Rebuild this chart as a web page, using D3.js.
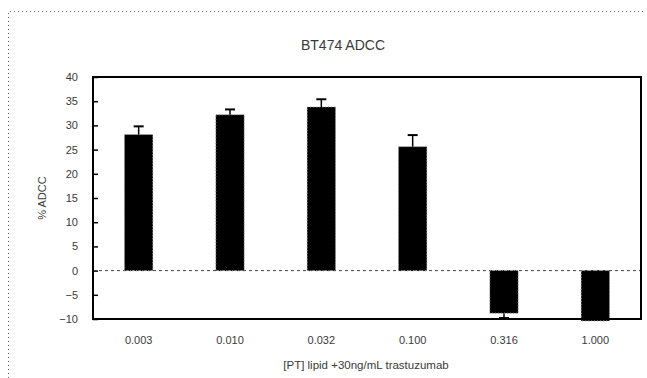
<!DOCTYPE html>
<html>
<head>
<meta charset="utf-8">
<script src="https://cdn.jsdelivr.net/npm/d3@7"></script>
<style>
  html, body { margin: 0; padding: 0; background: #fff; }
  svg text { font-family: "Liberation Sans", Arial, sans-serif; fill: #3a3a3a; }
</style>
</head>
<body>
<svg id="chart" width="647" height="378"></svg>
<script>
// BT474 ADCC: % ADCC per lipid concentration with 30 ng/mL trastuzumab
const concentrations = ["0.003", "0.010", "0.032", "0.100", "0.316", "1.000"];
const adcc = [28.1, 32.2, 33.8, 25.6, -8.8, -10.4];
const adccErr = [1.7, 1.1, 1.6, 2.4, 1.0, 0.8];
const yTicks = [40, 35, 30, 25, 20, 15, 10, 5, 0, -5, -10];

const svg = d3.select("#chart");
const W = 647, H = 378;
const plot = { left: 93, top: 77, right: 641, bottom: 319 };

// outer dotted frame
svg.append("path")
  .attr("d", `M8.5,${H} V11.5 H645.5`)
  .attr("fill", "none")
  .attr("stroke", "#666")
  .attr("stroke-width", 1)
  .attr("stroke-dasharray", "1,3");

const x = d3.scaleBand()
  .domain(concentrations)
  .range([plot.left, plot.right])
  .paddingInner(0.69)
  .paddingOuter(0.345);

const y = d3.scaleLinear()
  .domain([-10, 40])
  .range([plot.bottom, plot.top]);

// title
svg.append("text")
  .attr("x", 343).attr("y", 50)
  .attr("text-anchor", "middle")
  .attr("font-size", 14)
  .text("BT474 ADCC");

// y axis with inward ticks
const yAxis = d3.axisLeft(y)
  .tickValues(yTicks)
  .tickSize(-5)
  .tickPadding(15)
  .tickFormat(d3.format("d"));
const gy = svg.append("g")
  .attr("transform", `translate(${plot.left},0)`)
  .call(yAxis);
gy.select(".domain").remove();
gy.selectAll(".tick line").attr("stroke", "#000").attr("stroke-width", 1.5);
gy.selectAll(".tick text").attr("font-size", 11).style("fill", "#3a3a3a");

// y axis title
svg.append("text")
  .attr("transform", `translate(46,${(plot.top + plot.bottom) / 2}) rotate(-90)`)
  .attr("text-anchor", "middle")
  .attr("font-size", 11)
  .text("% ADCC");

// zero reference line
svg.append("line")
  .attr("x1", plot.left).attr("x2", plot.right)
  .attr("y1", y(0)).attr("y2", y(0))
  .attr("stroke", "#444")
  .attr("stroke-width", 1)
  .attr("stroke-dasharray", "3,3");

// clip for error bars
svg.append("clipPath").attr("id", "plotClip")
  .append("rect")
  .attr("x", plot.left).attr("y", plot.top)
  .attr("width", plot.right - plot.left)
  .attr("height", plot.bottom - plot.top);

const data = concentrations.map((c, i) => ({ c, v: adcc[i], e: adccErr[i] }));

// error bars (drawn away from zero)
const eg = svg.append("g").attr("clip-path", "url(#plotClip)");
data.forEach(d => {
  const cx = x(d.c) + x.bandwidth() / 2;
  const end = d.v >= 0 ? d.v + d.e : d.v - d.e;
  eg.append("line")
    .attr("x1", cx).attr("x2", cx)
    .attr("y1", y(d.v)).attr("y2", y(end))
    .attr("stroke", "#000").attr("stroke-width", 1.5);
  eg.append("line")
    .attr("x1", cx - 5).attr("x2", cx + 5)
    .attr("y1", y(end)).attr("y2", y(end))
    .attr("stroke", "#000").attr("stroke-width", 2);
});

// bars
svg.append("g").selectAll("rect")
  .data(data)
  .join("rect")
  .attr("x", d => x(d.c))
  .attr("width", x.bandwidth())
  .attr("y", d => y(Math.max(0, d.v)))
  .attr("height", d => Math.abs(y(d.v) - y(0)))
  .attr("fill", "#000")
  .attr("stroke", "#999")
  .attr("stroke-width", 1)
  .attr("stroke-dasharray", "1,2");

// plot frame
svg.append("rect")
  .attr("x", plot.left).attr("y", plot.top)
  .attr("width", plot.right - plot.left)
  .attr("height", plot.bottom - plot.top)
  .attr("fill", "none")
  .attr("stroke", "#000")
  .attr("stroke-width", 2);

// category labels
const xAxis = d3.axisBottom(x).tickSize(0).tickPadding(0);
const gx = svg.append("g")
  .attr("transform", `translate(0,336)`)
  .call(xAxis);
gx.select(".domain").remove();
gx.selectAll(".tick text").attr("font-size", 11).attr("dy", "0.71em").style("fill", "#3a3a3a");

// x axis title
svg.append("text")
  .attr("x", 366).attr("y", 369)
  .attr("text-anchor", "middle")
  .attr("font-size", 11.5)
  .text("[PT] lipid +30ng/mL trastuzumab");
</script>
</body>
</html>
